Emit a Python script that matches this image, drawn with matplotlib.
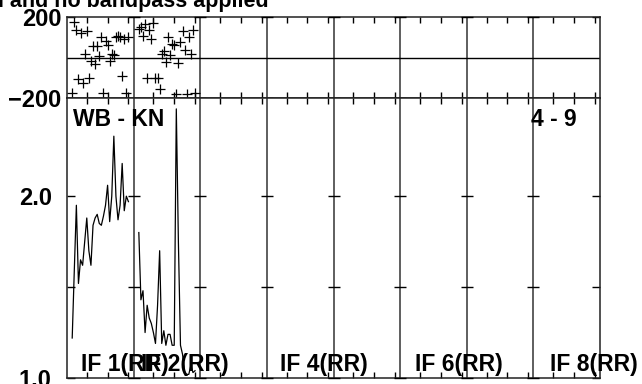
import matplotlib
matplotlib.use('Agg')
import matplotlib.pyplot as plt

plt.rcParams['font.family'] = ['Liberation Sans', 'DejaVu Sans']
plt.rcParams['font.weight'] = 'bold'

# ---- data ----
channels = list(range(3, 31))          # channels plotted in each IF
n_chan = 32
n_if = 8
if1_amp = [1.22, 1.59, 1.95, 1.52, 1.65, 1.62, 1.75, 1.88, 1.70, 1.62, 1.84, 1.88, 1.90, 1.85,
           1.84, 1.89, 1.95, 2.06, 1.86, 2.00, 2.33, 2.00, 1.87, 1.95, 2.18, 1.92, 2.00, 1.97]
if2_amp = [1.80, 1.43, 1.48, 1.25, 1.40, 1.33, 1.30, 1.25, 1.19, 1.40, 1.70, 1.19, 1.26, 1.18,
           1.24, 1.24, 1.18, 1.18, 2.48, 1.75, 1.18, 1.13, 1.03, 1.02, 1.02, 1.07, 1.03, 1.04]
if1_phase = [-177, 175, 138, -108, 122, -124, 15, 132, -100, -15, 55, -31, 55, 6,
             100, -177, 83, 60, -15, 18, 11, 100, 105, 100, -92, 93, -177, 100]
if2_phase = [142, 149, 104, 165, -100, 137, 93, 170, -100, -100, -157, 18, 34, -21,
             100, 11, 67, 60, -178, -26, 77, 129, 39, -178, 100, 15, 137, -173]
if_labels = ['IF 1(RR)', 'IF 2(RR)', 'IF 4(RR)', 'IF 6(RR)', 'IF 8(RR)']
phase_ticks = [-200, 200]
phase_ticklabels = ['\u2212200', '200']
amp_ticks = [1.0, 1.5, 2.0]
amp_ticklabels = ['1.0', '', '2.0']
chan_ticks = [10, 20, 30]
title = 'I and no bandpass applied'
baseline_label = 'WB - KN'
time_label = '4 - 9'

# ---- layout ----
W, H = 642, 384
fig = plt.figure(figsize=(W / 100, H / 100), dpi=100)
L, R, T, M, B = 67, 600, 17, 98, 378
ax_ph = fig.add_axes([L / W, 1 - M / H, (R - L) / W, (M - T) / H])
ax_am = fig.add_axes([L / W, 1 - B / H, (R - L) / W, (B - M) / H])

xmax = n_chan * n_if
def xpos(ifn, ch):
    return [(ifn - 1) * n_chan + c - 0.5 for c in ch]

bounds = [k * n_chan for k in range(1, n_if)]
xt = [k * n_chan + c - 0.5 for k in range(n_if) for c in chan_ticks]

for ax in (ax_ph, ax_am):
    ax.set_xlim(0, xmax)
    for b in bounds:
        ax.axvline(b, color='#333333', lw=1.1, zorder=1)
    ax.set_xticks(xt)
    ax.set_xticklabels([])
    ax.tick_params(axis='x', direction='in', length=4, width=1, top=True, bottom=True)
    ax.tick_params(axis='y', direction='in', length=6, width=1, left=True, right=True,
                   labelsize=17)
    for s in ax.spines.values():
        s.set_color('#222222')
        s.set_linewidth(1.1)

# phase panel
ax_ph.set_ylim(-200, 200)
ax_ph.axhline(0, color='k', lw=1, zorder=1)
ax_ph.set_yticks(phase_ticks)
ax_ph.set_yticklabels(phase_ticklabels, fontweight='bold')
ax_ph.tick_params(axis='y', pad=4)
for b in bounds:
    ax_ph.plot([b] * len(phase_ticks), phase_ticks, ls='none', marker='_', ms=8,
               mew=1, color='k', clip_on=False, zorder=3)
ax_ph.plot(xpos(1, channels), if1_phase, ls='none', marker='+', ms=7, mew=0.9, color='k')
ax_ph.plot(xpos(2, channels), if2_phase, ls='none', marker='+', ms=7, mew=0.9, color='k')

# amplitude panel
ax_am.set_ylim(1.0, 2.54)
ax_am.set_yticks(amp_ticks)
ax_am.set_yticklabels(amp_ticklabels, fontweight='bold')
ax_am.tick_params(axis='y', pad=11)
for b in bounds:
    ax_am.plot([b] * len(amp_ticks), amp_ticks, ls='none', marker='_', ms=8,
               mew=1, color='k', clip_on=False, zorder=3)
ax_am.plot(xpos(1, channels), if1_amp, color='k', lw=0.9)
ax_am.plot(xpos(2, channels), if2_amp, color='k', lw=0.9)

# texts
def ftext(px, py, s, **kw):
    fig.text(px / W, 1 - py / H, s, va='baseline', fontweight='bold', **kw)

ftext(-2, 7, title, fontsize=15.5)
ftext(73, 126, baseline_label, fontsize=16.5)
ftext(531, 126, time_label, fontsize=16.5)
label_px = [81, 141, 280, 415, 550]
for s, px in zip(if_labels, label_px):
    ftext(px, 371, s, fontsize=16.5)

fig.savefig('out.png', dpi=100)
